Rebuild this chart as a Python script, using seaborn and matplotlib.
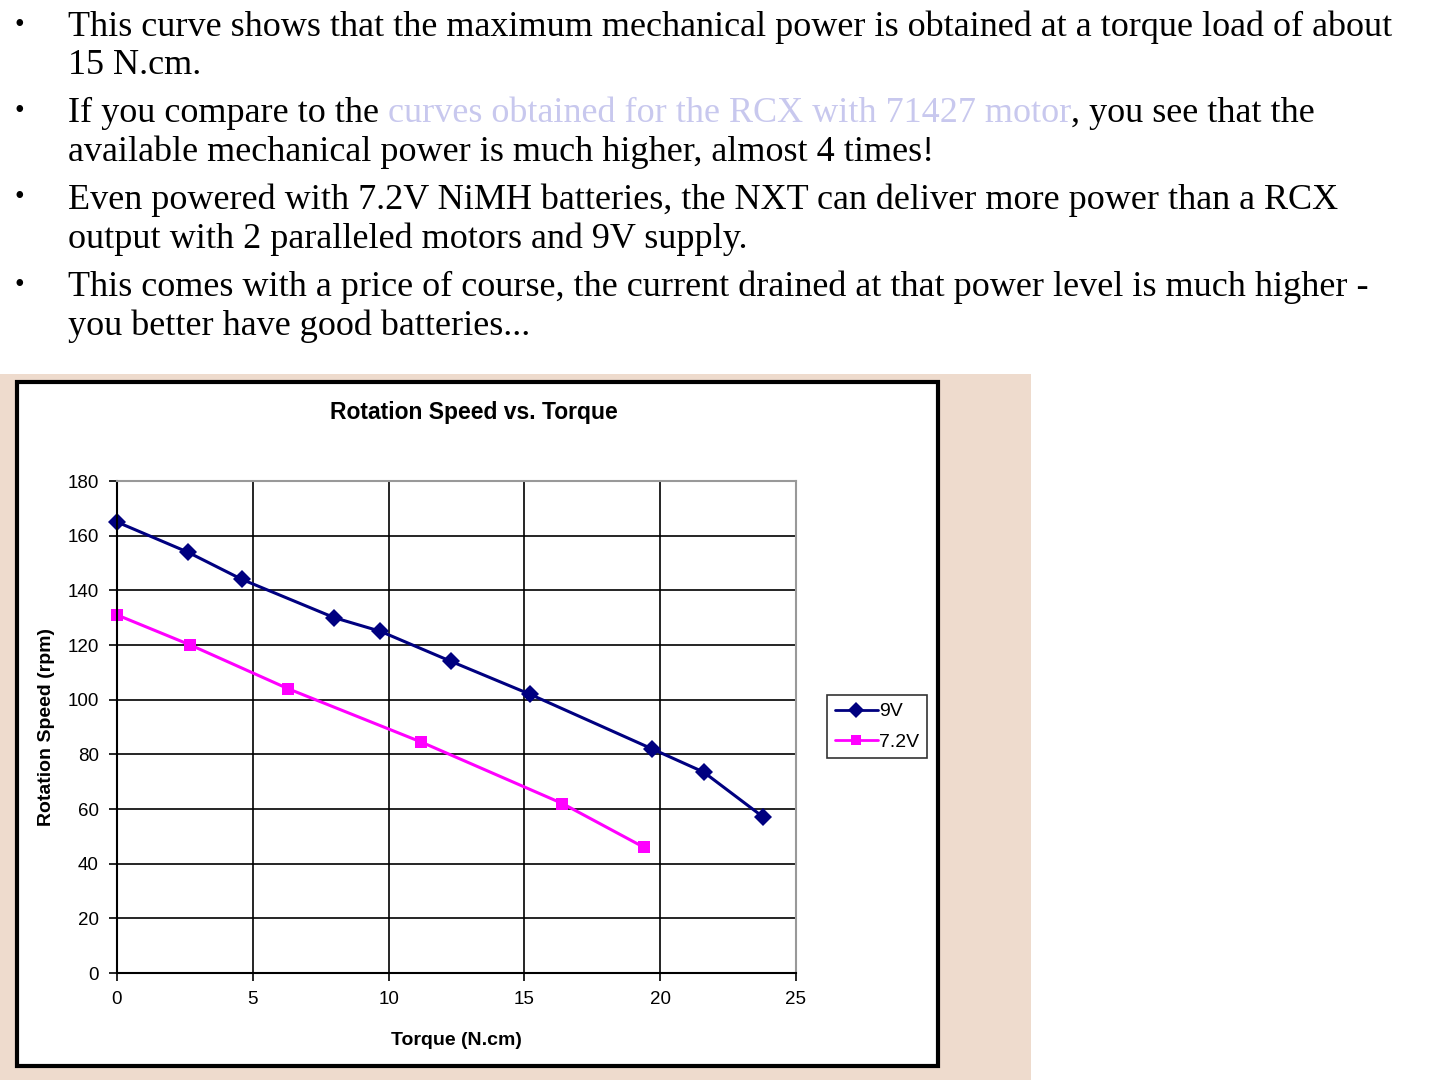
import numpy as np
import pandas as pd
import matplotlib
matplotlib.use('Agg')
import matplotlib.pyplot as plt
import seaborn as sns
from matplotlib.patches import Rectangle

# ── Data ─────────────────────────────────────────────────────────────────────
TORQUE_9V = [0, 2.6, 4.6, 8.0, 9.7, 12.3, 15.2, 19.7, 21.6, 23.8]
SPEED_9V = [165, 154, 144, 130, 125, 114, 102, 82, 73.5, 57]
TORQUE_72V = [0, 2.7, 6.3, 11.2, 16.4, 19.4]
SPEED_72V = [131, 120, 104, 84.5, 62, 46]
SERIES = ['9V', '7.2V']
X_TICKS = [0, 5, 10, 15, 20, 25]
Y_TICKS = [0, 20, 40, 60, 80, 100, 120, 140, 160, 180]

BULLETS = [
    ["This curve shows that the maximum mechanical power is obtained at a torque load of about",
     "15 N.cm."],
    [None,
     "available mechanical power is much higher, almost 4 times!"],
    ["Even powered with 7.2V NiMH batteries, the NXT can deliver more power than a RCX",
     "output with 2 paralleled motors and 9V supply."],
    ["This comes with a price of course, the current drained at that power level is much higher -",
     "you better have good batteries..."],
]
LINK_PARTS = ["If you compare to the ", "curves obtained for the RCX with 71427 motor",
              ", you see that the"]

df = pd.concat([
    pd.DataFrame({'torque': TORQUE_9V, 'speed': SPEED_9V, 'series': SERIES[0]}),
    pd.DataFrame({'torque': TORQUE_72V, 'speed': SPEED_72V, 'series': SERIES[1]}),
])

sns.set_style('white')
plt.rcParams['font.family'] = ['Liberation Sans', 'DejaVu Sans']
plt.rcParams['text.color'] = 'black'
plt.rcParams['axes.labelcolor'] = 'black'

W, H = 1440, 1080
fig = plt.figure(figsize=(W / 100, H / 100), dpi=100)
fig.patch.set_facecolor('white')

def fx(px):
    return px / W

def fy(py):
    return 1 - py / H

# ── Background panel and chart frame ────────────────────────────────────────
fig.patches.append(Rectangle((0, 0), fx(1031), fy(374), transform=fig.transFigure,
                             facecolor='#EEDBCD', edgecolor='none', zorder=0))
fig.patches.append(Rectangle((fx(17), fy(1066)), fx(938) - fx(17), fy(382) - fy(1066),
                             transform=fig.transFigure, facecolor='white',
                             edgecolor='black', linewidth=3, zorder=1))

# ── Bullet text ──────────────────────────────────────────────────────────────
serif = ['Liberation Serif', 'DejaVu Serif']
TXT_SIZE = 26
line_y = [27, 66, 113, 152, 200, 239, 287, 326]
for i, (first, second) in enumerate(BULLETS):
    y1, y2 = line_y[2 * i], line_y[2 * i + 1]
    fig.text(fx(15), fy(y1 - 2), '•', fontsize=20, family=serif, va='center', color='black')
    if first is not None:
        fig.text(fx(68), fy(y1), first, fontsize=TXT_SIZE, family=serif, va='center',
                 color='black')
    fig.text(fx(68), fy(y2), second, fontsize=TXT_SIZE, family=serif, va='center',
             color='black')

# mixed-colour line
renderer = fig.canvas.get_renderer()
xpos = 68
for part, col in zip(LINK_PARTS, ['black', '#C8C8EE', 'black']):
    t = fig.text(fx(xpos), fy(line_y[2]), part, fontsize=TXT_SIZE, family=serif,
                 va='center', color=col)
    xpos += t.get_window_extent(renderer).width

# ── Chart ────────────────────────────────────────────────────────────────────
ax = fig.add_axes([fx(117), fy(973), fx(796) - fx(117), fy(481) - fy(973)])
ax.set_zorder(3)
sns.lineplot(data=df, x='torque', y='speed', hue='series', style='series',
             markers=['D', 's'], dashes=False, palette=['#000080', '#FF00FF'],
             markersize=9, markeredgewidth=0, linewidth=2.2, sort=False, ax=ax,
             legend=False, clip_on=False)

ax.set_xlim(0, 25)
ax.set_ylim(0, 180)
ax.set_xticks(X_TICKS)
ax.set_yticks(Y_TICKS)
ax.grid(True, color='black', linewidth=1.2)
ax.set_axisbelow(True)
for s in ['top', 'right']:
    ax.spines[s].set_color('#999999')
    ax.spines[s].set_linewidth(1.5)
for s in ['left', 'bottom']:
    ax.spines[s].set_color('black')
    ax.spines[s].set_linewidth(1.5)
ax.tick_params(axis='both', direction='out', length=6, width=1.2, color='black',
               labelsize=13.5, labelcolor='black', pad=7, left=True, bottom=True)
ax.set_xlabel('Torque (N.cm)', fontsize=14, fontweight='bold', labelpad=17)
ax.set_ylabel('Rotation Speed (rpm)', fontsize=14, fontweight='bold', labelpad=9)

fig.text(fx(474), fy(413), 'Rotation Speed vs. Torque', fontsize=16.5, fontweight='bold',
         ha='center', va='center', zorder=4)

# ── Legend ───────────────────────────────────────────────────────────────────
handles = [
    plt.Line2D([], [], color='#000080', marker='D', markersize=8, markeredgewidth=0, lw=2),
    plt.Line2D([], [], color='#FF00FF', marker='s', markersize=7, markeredgewidth=0, lw=2),
]
leg = fig.legend(handles, SERIES, loc='upper left', bbox_to_anchor=(fx(827), fy(695)),
                 fontsize=14, frameon=True, fancybox=False, edgecolor='black',
                 handlelength=2.2, handletextpad=0.1, borderpad=0.4, labelspacing=0.65,
                 borderaxespad=0)
leg.get_frame().set_linewidth(1.2)
leg.set_zorder(5)

fig.savefig('out.png', dpi=100, facecolor=fig.get_facecolor())
